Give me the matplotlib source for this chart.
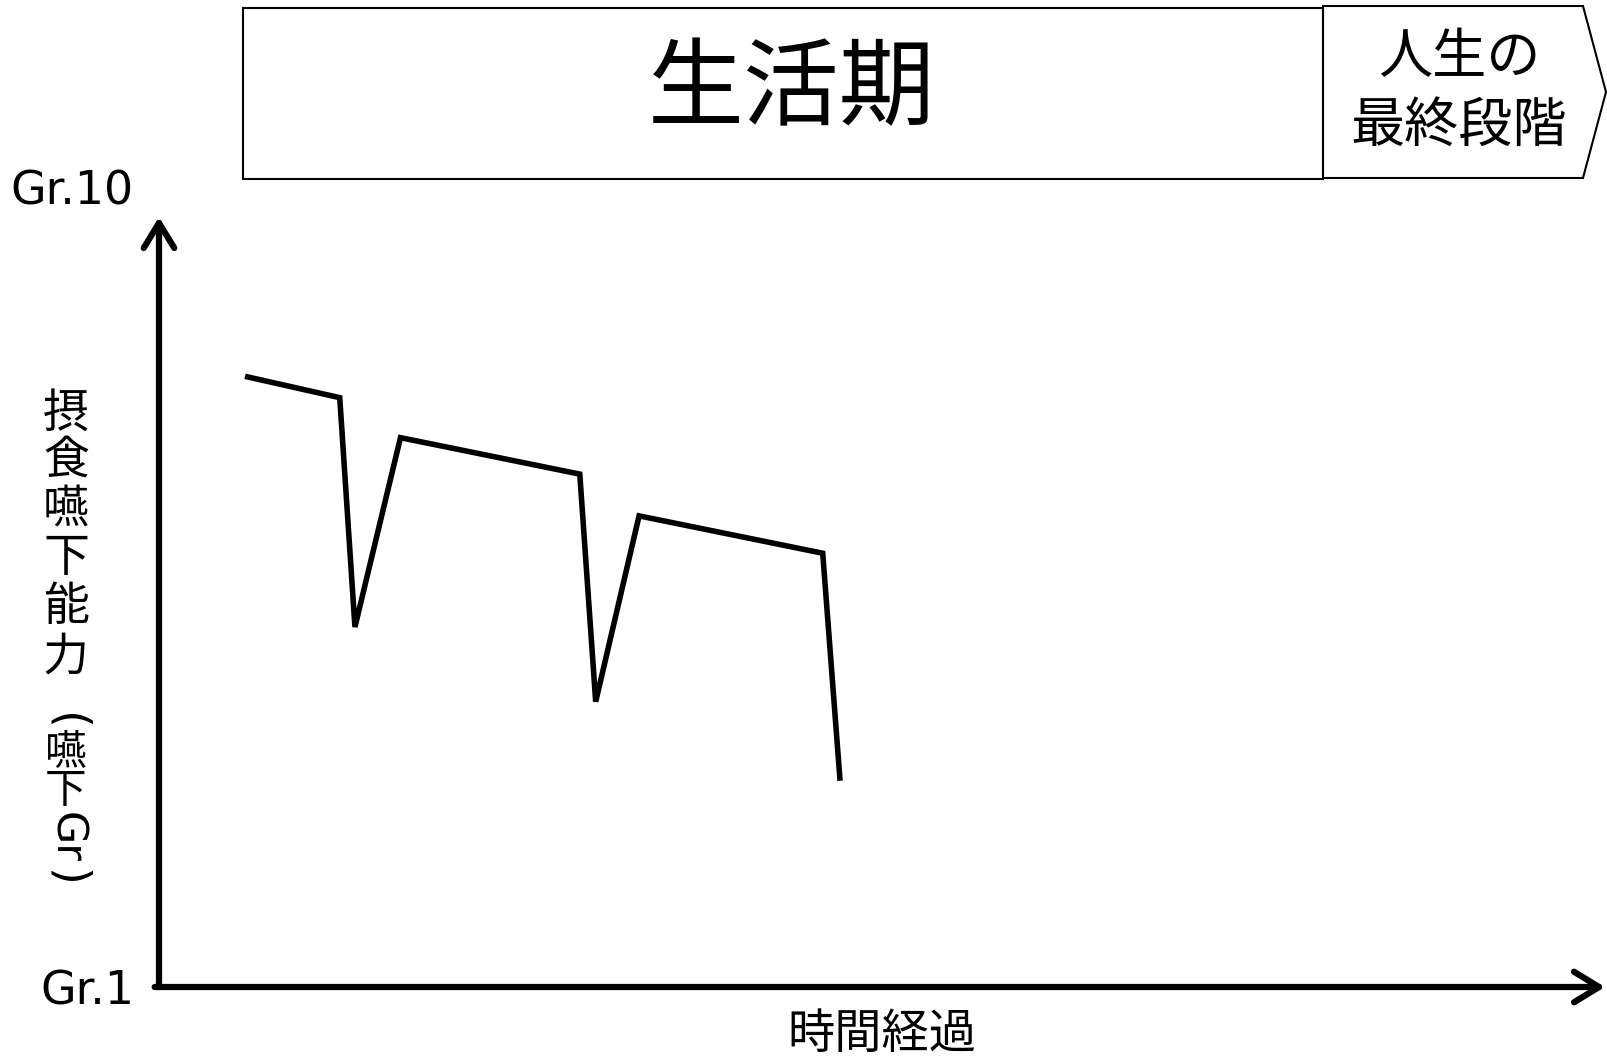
import matplotlib.pyplot as plt
from matplotlib.patches import Rectangle, Polygon

JP = ['Noto Sans CJK JP', 'DejaVu Sans']
plt.rcParams['font.family'] = JP

# データ（時間経過 0-100, 嚥下Gr 1-10）
x_time = [5.95, 12.5, 13.55, 16.7, 29.1, 30.2, 33.2, 45.9, 47.1]
y_gr = [7.87, 7.63, 5.05, 7.18, 6.77, 4.21, 6.30, 5.88, 3.32]
y_ticks = [1, 10]
y_ticklabels = ['Gr.1', 'Gr.10']
x_label = '時間経過'
phase_main = '生活期'
phase_end = '人生の\n最終段階'

W, H = 1608, 1059
fig = plt.figure(figsize=(W / 100, H / 100), dpi=100)

# 装飾用（ピクセル座標）
deco = fig.add_axes([0, 0, 1, 1], zorder=0)
deco.set_xlim(0, W)
deco.set_ylim(H, 0)
deco.axis('off')

# グラフ本体
x0, x1, y0, y1 = 159, 1605, 987, 187
ax = fig.add_axes([x0 / W, (H - y0) / H, (x1 - x0) / W, (y0 - y1) / H], zorder=1)
ax.patch.set_alpha(0)
ax.set_xlim(0, 100)
ax.set_ylim(1, 10)
for s in ax.spines.values():
    s.set_visible(False)

ax.plot(x_time, y_gr, color='black', lw=4, solid_capstyle='butt', solid_joinstyle='miter')

ax.set_xticks([])
ax.set_yticks(y_ticks)
ax.set_yticklabels(y_ticklabels, family='DejaVu Sans', fontsize=33)
ax.tick_params(axis='y', length=0, pad=18)
ax.set_xlabel(x_label, fontsize=34, labelpad=17)

# 軸の矢印
arrow = dict(arrowstyle='->,head_length=0.9,head_width=0.55', lw=4.5, color='black',
             shrinkA=0, shrinkB=0, mutation_scale=20, capstyle='round', joinstyle='round')
ax.annotate('', xy=(0, (y0 - 217) / (y0 - y1)), xytext=(0, 0), xycoords='axes fraction',
            arrowprops=arrow, annotation_clip=False)
ax.annotate('', xy=(1, 0), xytext=(-0.003, 0), xycoords='axes fraction',
            arrowprops=arrow, annotation_clip=False)

# 上部の期間ボックス
deco.add_patch(Rectangle((243, 8), 1323 - 243, 171, fill=False, lw=1.5, ec='black'))
deco.add_patch(Polygon([(1323, 6), (1583, 6), (1606, 92), (1583, 178), (1323, 178)],
                       closed=True, fill=False, lw=1.5, ec='black', clip_on=False))
deco.text(792, 90, phase_main, fontsize=69, ha='center', va='center')
deco.text(1459, 92, phase_end, fontsize=39, ha='center', va='center', linespacing=1.3)

# 縦書きの軸ラベル
ylab = [('摂', 413, 0, 33), ('食', 460, 0, 33), ('嚥', 509, 0, 33), ('下', 558, 0, 33),
        ('能', 607, 0, 33), ('力', 657, 0, 33), ('(', 722, -90, 33), ('嚥', 753, 0, 30),
        ('下', 792, 0, 30), ('Gr', 838, -90, 31), (')', 878, -90, 33)]
for ch, yy, rot, fs in ylab:
    fam = JP if rot == 0 else ['DejaVu Sans']
    deco.text(66, yy, ch, fontsize=fs, ha='center', va='center', rotation=rot,
              rotation_mode='anchor', family=fam)

fig.savefig('out.png', dpi=100)
